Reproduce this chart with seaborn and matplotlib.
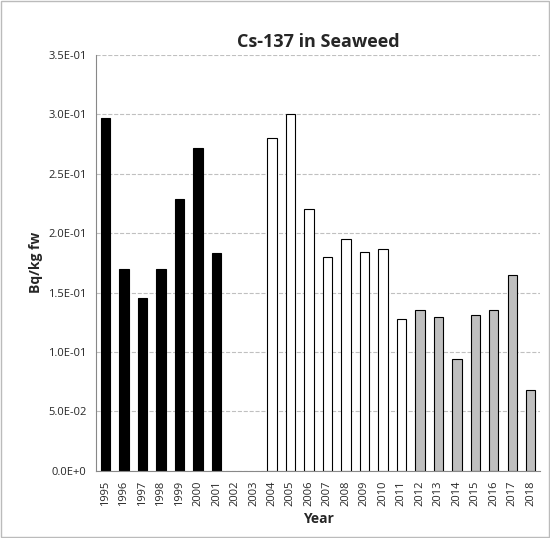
import numpy as np
import pandas as pd
import matplotlib
matplotlib.use("Agg")
import matplotlib.pyplot as plt
import seaborn as sns

years = [str(y) for y in range(1995, 2019)]
values = [0.297, 0.170, 0.145, 0.170, 0.229, 0.272, 0.183, np.nan, np.nan,
          0.280, 0.300, 0.220, 0.180, 0.195, 0.184, 0.187, 0.128,
          0.135, 0.129, 0.094, 0.131, 0.135, 0.165, 0.068]
colors = ['black'] * 7 + ['white'] * 2 + ['white'] * 8 + ['#bfbfbf'] * 7

df = pd.DataFrame({'Year': years, 'Value': values})

sns.set_style('white')
plt.rcParams['font.family'] = ['Open Sans', 'DejaVu Sans']

fig = plt.figure(figsize=(5.5, 5.38), dpi=100)
ax = fig.add_axes([0.175, 0.125, 0.807, 0.773])
ax.yaxis.grid(True, linestyle='--', color='#c0c0c0', linewidth=0.8)
ax.set_axisbelow(True)
sns.barplot(data=df, x='Year', y='Value', palette=colors, hue='Year',
            legend=False, width=0.5, edgecolor='black', linewidth=0.8, ax=ax)

ax.set_ylim(0, 0.35)
ticks = np.arange(0, 0.351, 0.05)
ax.set_yticks(ticks)
ax.set_yticklabels([f'{t:.1E}'.replace('E-0', 'E-0').replace('E+00', 'E+0') for t in ticks], fontsize=8)
ax.set_xlim(-0.5, len(years) - 0.5)
ax.tick_params(axis='x', labelrotation=90, labelsize=8)
for s in ['top', 'right']:
    ax.spines[s].set_visible(False)
ax.spines['left'].set_color('#888888')
ax.spines['bottom'].set_color('#888888')
ax.set_title('Cs-137 in Seaweed', fontsize=13, fontweight='bold')
ax.set_xlabel('Year', fontsize=10, fontweight='bold')
ax.set_ylabel('Bq/kg fw', fontsize=10, fontweight='bold')
fig.patches.append(plt.Rectangle((0.002, 0.002), 0.996, 0.996, transform=fig.transFigure,
                                 fill=False, edgecolor='#bbbbbb', linewidth=1))
fig.savefig('out.png', dpi=100)
